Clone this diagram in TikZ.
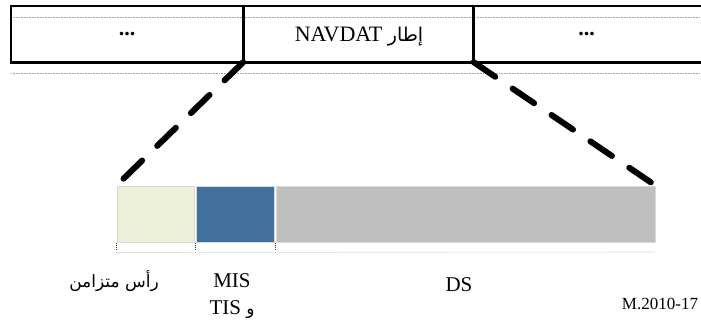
\documentclass[tikz,border=0pt]{standalone}
\usepackage{fontspec}
\setmainfont{Liberation Serif}
\newfontfamily\arabicfont[Script=Arabic]{DejaVu Sans}
\TeXXeTstate=1

\begin{document}
\begin{tikzpicture}[x=1pt,y=-1pt,
    cell/.style={inner sep=0pt, minimum height=56pt, font=\fontsize{22}{26}\selectfont},
    frame/.style={line width=2.6pt},
    part/.style={draw=black!15, line width=1pt, inner sep=0pt, minimum height=56pt},
    zoomline/.style={line width=6pt, dash pattern=on 26pt off 21pt, line cap=round},
    guide/.style={black!35, densely dotted, line width=0.6pt},
    tick/.style={black!80, densely dotted, line width=1pt},
    lab/.style={font=\fontsize{21}{25}\selectfont}]
      \useasboundingbox (0,0) rectangle (701,325);

      % NAVDAT frame row
      \node[cell, minimum width=232pt] (c1) at (127,34) {\bfseries ...};
      \node[cell, minimum width=229pt] (c2) at (359,34) {};
      \node[cell, minimum width=229pt] (c3) at (586.5,34) {\bfseries ...};
      \node[cell, minimum height=0pt] (t2) at (359,37) {\beginR{\arabicfont\fontsize{19}{22}\selectfont إطار} NAVDAT\endR};

      \draw[guide] (11,17) -- (701,17);
      \draw[guide] (11,73) -- (701,73);
      \draw[frame] (c3.north east) -- (c1.north west) -- (c1.south west) -- (c3.south east);
      \draw[frame] (c1.north east) -- (c1.south east);
      \draw[frame] (c2.north east) -- (c2.south east);

      % frame content
      \node[part, fill={rgb,255:red,237;green,240;blue,216}, minimum width=77pt] (b1) at (155.5,214) {};
      \node[part, fill={rgb,255:red,65;green,112;blue,156}, minimum width=78pt] (b2) at (235,214) {};
      \node[part, fill={rgb,255:red,191;green,191;blue,191}, minimum width=379pt] (b3) at (465.5,214) {};

      \draw[zoomline] (c1.south east) -- (b1.north west);
      \draw[zoomline] (c2.south east) -- (b3.north east);

      \draw[guide] (b1.south west) ++(0,10) -- (655,252);
      \draw[tick] (b1.south west) -- ++(0,8);
      \draw[tick] (b2.south west) -- ++(0,8);
      \draw[tick] (b3.south west) -- ++(0,8);

      % labels
      \node[font=\fontsize{17}{20}\selectfont] (l1) at (114,281) {\arabicfont\beginR رأس متزامن\endR};
      \node[lab] (l2) at (232,281) {MIS};
      \node[lab] (l3) at (232,310) {\beginR{\arabicfont\fontsize{17}{20}\selectfont و} TIS\endR};
      \node[lab] (l4) at (459,285) {DS};
      \node[font=\fontsize{17}{20}\selectfont] (fig) at (660,304) {M.2010-17};
\end{tikzpicture}
\end{document}
